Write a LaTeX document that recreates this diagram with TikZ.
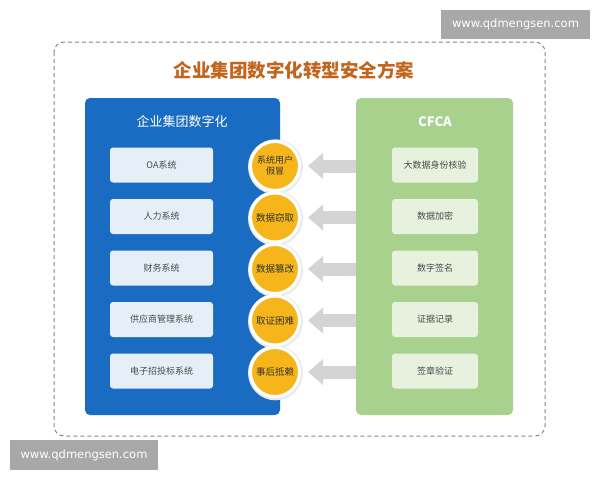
\documentclass[tikz,border=0pt]{standalone}
\usepackage{fontspec}
\setmainfont{Noto Sans CJK SC}
\newfontfamily\wmfont{DejaVu Sans}
\usetikzlibrary{arrows.meta}
\definecolor{bluep}{HTML}{1A6CC2}
\definecolor{bluebox}{HTML}{E6EFF8}
\definecolor{greenp}{HTML}{A7D18C}
\definecolor{greenbox}{HTML}{E6F2DD}
\definecolor{circc}{HTML}{F5B51B}
\definecolor{titlec}{HTML}{C2641C}
\definecolor{arrowc}{HTML}{D4D4D4}
\definecolor{wmc}{HTML}{A8A8A8}
\definecolor{txtc}{HTML}{4A4A4A}
\definecolor{dashc}{HTML}{8A8680}
\tikzset{
  panel/.style={rounded corners=5pt, inner sep=0pt},
  sysbox/.style={fill=bluebox, rounded corners=3pt, minimum width=103pt, minimum height=35pt, inner sep=0pt, text=txtc, font=\fontsize{9}{10}\selectfont},
  cfbox/.style={fill=greenbox, rounded corners=3pt, minimum width=86pt, minimum height=35pt, inner sep=0pt, text=txtc, font=\fontsize{9}{10}\selectfont},
  risk/.style={circle, fill=circc, draw=white, line width=3pt, minimum size=49pt, inner sep=0pt, align=center, text=black!80, font=\fontsize{9.5}{11}\selectfont},
  riskshadow/.style={circle, fill=black!8, minimum size=55pt, inner sep=0pt},
  bigarrow/.style={arrowc, line width=13pt, -{Triangle[length=15pt,width=25pt]}, shorten >=7pt},
  wm/.style={fill=wmc, text=white, inner sep=0pt, font=\wmfont\fontsize{11.5}{13}\selectfont},
}
\begin{document}
\begin{tikzpicture}[x=1pt,y=-1pt]
\useasboundingbox (0,0) rectangle (600,480);
\fill[white] (0,0) rectangle (600,480);
% outer dashed frame
\draw[dashc, line width=1pt, dash pattern=on 4pt off 3pt, rounded corners=10pt, fill=white] (54,42) rectangle (545,436);
\node[font=\bfseries\fontsize{18.5}{20}\selectfont, text=titlec] (title) at (294,70) {企业集团数字化转型安全方案};
% panels
\node[panel, fill=bluep, minimum width=195pt, minimum height=317pt] (bp) at (182.5,256.5) {};
\node[panel, fill=greenp, minimum width=157pt, minimum height=317pt] (gp) at (434.5,256.5) {};
\node[text=white, font=\fontsize{13}{15}\selectfont] (bt) at (182,122) {企业集团数字化};
\node[text=white, font=\bfseries\fontsize{13}{15}\selectfont] (gt) at (435,122) {CFCA};
% left boxes
\node[sysbox] (s1) at (161.5,165) {OA系统};
\node[sysbox] (s2) at (161.5,216.5) {人力系统};
\node[sysbox] (s3) at (161.5,268) {财务系统};
\node[sysbox] (s4) at (161.5,319.5) {供应商管理系统};
\node[sysbox] (s5) at (161.5,371) {电子招投标系统};
% right boxes
\node[cfbox] (g1) at (435,165) {大数据身份核验};
\node[cfbox] (g2) at (435,216.5) {数据加密};
\node[cfbox] (g3) at (435,268) {数字签名};
\node[cfbox] (g4) at (435,319.5) {证据记录};
\node[cfbox] (g5) at (435,371) {签章验证};
% circles
\foreach \i/\y in {1/166,2/217.5,3/269,4/320.5,5/372}{
  \node[riskshadow] (sh\i) at (275.5,\y+0.8) {};
}
\node[risk, font=\fontsize{9}{11}\selectfont] (c1) at (275,166) {系统用户\\假冒};
\node[risk] (c2) at (275,217.5) {数据窃取};
\node[risk] (c3) at (275,269) {数据篡改};
\node[risk] (c4) at (275,320.5) {取证困难};
\node[risk] (c5) at (275,372) {事后抵赖};
% arrows
\foreach \i in {1,...,5}{
  \draw[bigarrow] (c\i -| gp.west) -- (c\i.east);
}
% watermarks
\node[wm, minimum width=149pt, minimum height=29pt] (w1) at (515.5,24.5) {www.qdmengsen.com};
\node[wm, minimum width=148pt, minimum height=30pt] (w2) at (84,455) {www.qdmengsen.com};
\end{tikzpicture}
\end{document}
